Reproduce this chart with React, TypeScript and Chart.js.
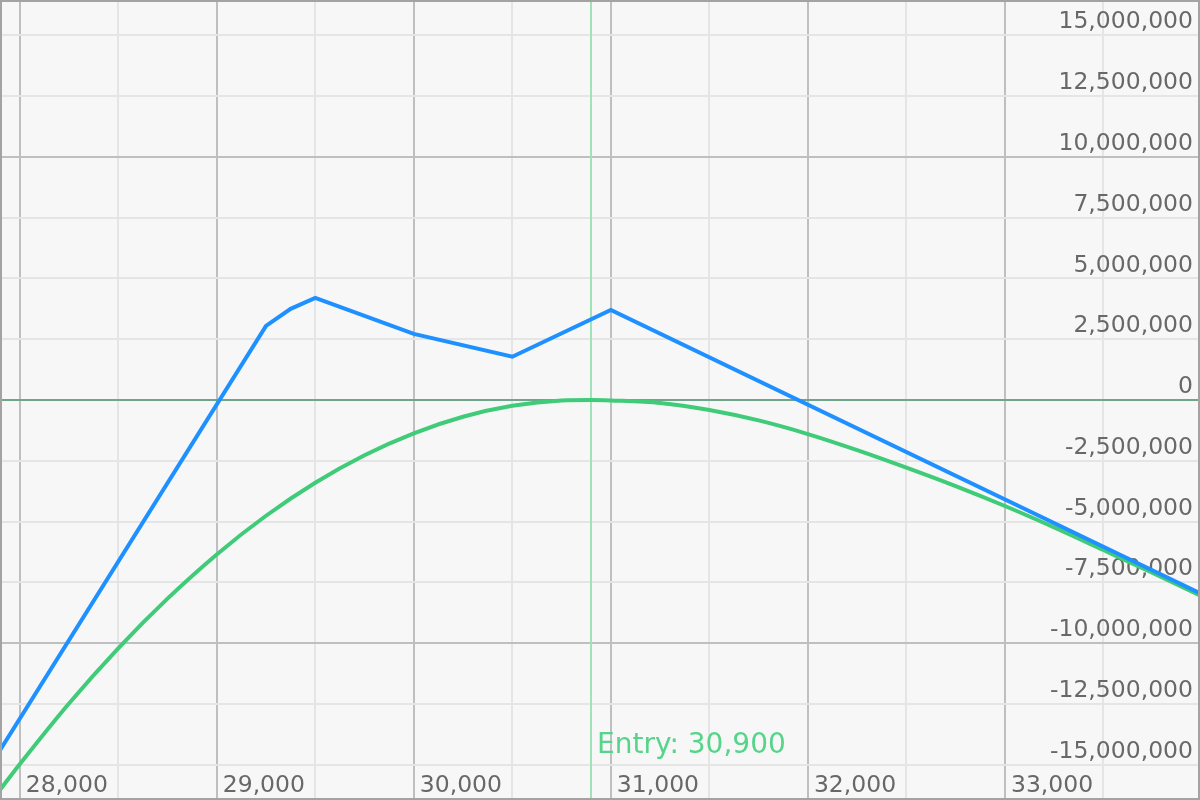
import React, { useEffect, useRef } from 'react';
import { Chart, registerables } from 'chart.js';

Chart.register(...registerables);

// ---- axis ranges ----
const X_MIN = 27900;
const X_MAX = 33990;
const Y_MIN = -16450000;
const Y_MAX = 16450000;
const X_LABEL_STEP = 1000;
const Y_MAJOR_STEP = 10000000;

// ---- tick values (grid lines) ----
const xTicks = [28000, 28500, 29000, 29500, 30000, 30500, 31000, 31500, 32000, 32500, 33000, 33500];
const yTicks = [
  -15000000, -12500000, -10000000, -7500000, -5000000, -2500000, 0,
  2500000, 5000000, 7500000, 10000000, 12500000, 15000000,
];

// ---- entry marker ----
const ENTRY_PRICE = 30900;
const ENTRY_LABEL = 'Entry: 30,900';

// ---- P&L at expiry (blue) ----
const expiryPrices = [27900, 29250, 29375, 29500, 30000, 30500, 31000, 33990];
const expiryPnl = [-14400000, 3050000, 3750000, 4200000, 2720000, 1780000, 3700000, -7950000];

// ---- current P&L (green) ----
const currentPrices = [
  27900, 28000, 28250, 28500, 28750, 29000, 29250, 29500, 29750, 30000, 30250, 30500,
  30750, 30900, 31000, 31250, 31500, 31750, 32000, 32250, 32500, 32750, 33000, 33250,
  33500, 33750, 33990,
];
const currentPnl = [
  -16030000, -14980000, -12480000, -10210000, -8170000, -6350000, -4760000, -3400000,
  -2270000, -1370000, -690000, -240000, -20000, 0, -20000, -120000, -410000, -840000,
  -1400000, -2060000, -2780000, -3540000, -4360000, -5240000, -6170000, -7110000, -8040000,
];

const BG = '#f7f7f7';
const FRAME = '#a3a3a3';
const GRID_MAJOR = '#bfbfbf';
const GRID_MINOR = '#e5e5e5';
const ZERO_LINE = '#6fa68b';
const TEXT = '#686868';
const BLUE = '#1e90ff';
const GREEN = '#3fcb78';
const ENTRY_LINE = '#9fe3b9';
const ENTRY_TEXT = '#55d48a';
const FONT = '"DejaVu Sans", Verdana, sans-serif';

const fmt = (v: number) => Math.round(v).toLocaleString('en-US');

const zeroPadding = (s: any, horizontal: boolean) => {
  if (horizontal) s.height = 0;
  else s.width = 0;
  s.paddingTop = 0;
  s.paddingBottom = 0;
  s.paddingLeft = 0;
  s.paddingRight = 0;
};

const chromePlugin = {
  id: 'chrome',
  beforeDraw(chart: any) {
    const { ctx, width, height } = chart;
    ctx.save();
    ctx.fillStyle = BG;
    ctx.fillRect(0, 0, width, height);
    ctx.restore();
  },
  beforeDatasetsDraw(chart: any) {
    const { ctx, chartArea, scales } = chart;
    const x = Math.round(scales.x.getPixelForValue(ENTRY_PRICE));
    ctx.save();
    ctx.strokeStyle = ENTRY_LINE;
    ctx.lineWidth = 2;
    ctx.beginPath();
    ctx.moveTo(x, chartArea.top);
    ctx.lineTo(x, chartArea.bottom);
    ctx.stroke();
    ctx.fillStyle = ENTRY_TEXT;
    ctx.font = `28px ${FONT}`;
    ctx.textAlign = 'left';
    ctx.textBaseline = 'middle';
    ctx.fillText(ENTRY_LABEL, x + 6, chartArea.bottom - 54);
    ctx.restore();
  },
  afterDraw(chart: any) {
    const { ctx, width, height } = chart;
    ctx.save();
    ctx.strokeStyle = FRAME;
    ctx.lineWidth = 2;
    ctx.strokeRect(1, 1, width - 2, height - 2);
    ctx.restore();
  },
};

export default function App() {
  const canvasRef = useRef<HTMLCanvasElement | null>(null);

  useEffect(() => {
    document.body.style.margin = '0';
    const canvas = canvasRef.current;
    if (!canvas) return;

    const chart = new Chart(canvas, {
      type: 'line',
      data: {
        datasets: [
          {
            label: 'Expiry',
            data: expiryPrices.map((p, i) => ({ x: p, y: expiryPnl[i] })),
            borderColor: BLUE,
            borderWidth: 4,
            pointRadius: 0,
            tension: 0,
            fill: false,
          },
          {
            label: 'Current',
            data: currentPrices.map((p, i) => ({ x: p, y: currentPnl[i] })),
            borderColor: GREEN,
            borderWidth: 4,
            pointRadius: 0,
            cubicInterpolationMode: 'monotone',
            fill: false,
          },
        ],
      },
      options: {
        animation: false,
        responsive: true,
        maintainAspectRatio: false,
        layout: { padding: 0 },
        plugins: {
          legend: { display: false },
          tooltip: { enabled: false },
        },
        scales: {
          x: {
            type: 'linear',
            position: 'bottom',
            min: X_MIN,
            max: X_MAX,
            afterBuildTicks: (s: any) => {
              s.ticks = xTicks.map((v) => ({ value: v }));
            },
            afterFit: (s: any) => zeroPadding(s, true),
            border: { display: false },
            grid: {
              drawTicks: false,
              lineWidth: 2,
              color: (c: any) =>
                c.tick && c.tick.value % X_LABEL_STEP === 0 ? GRID_MAJOR : GRID_MINOR,
            },
            ticks: {
              autoSkip: false,
              maxRotation: 0,
              minRotation: 0,
              mirror: true,
              align: 'start',
              padding: 0,
              labelOffset: 6,
              color: TEXT,
              font: { family: FONT, size: 23.5 },
              callback: (v: any) => (Number(v) % X_LABEL_STEP === 0 ? fmt(Number(v)) : ''),
            },
          },
          y: {
            type: 'linear',
            position: 'right',
            min: Y_MIN,
            max: Y_MAX,
            afterBuildTicks: (s: any) => {
              s.ticks = yTicks.map((v) => ({ value: v }));
            },
            afterFit: (s: any) => zeroPadding(s, false),
            border: { display: false },
            grid: {
              drawTicks: false,
              lineWidth: 2,
              color: (c: any) => {
                const v = c.tick ? c.tick.value : 1;
                if (v === 0) return ZERO_LINE;
                return v % Y_MAJOR_STEP === 0 ? GRID_MAJOR : GRID_MINOR;
              },
            },
            ticks: {
              autoSkip: false,
              mirror: true,
              padding: -7,
              labelOffset: -13,
              color: TEXT,
              font: { family: FONT, size: 23.5 },
              callback: (v: any) => fmt(Number(v)),
            },
          },
        },
      } as any,
      plugins: [chromePlugin],
    });

    return () => {
      chart.destroy();
    };
  }, []);

  return (
    <div style={{ width: 1200, height: 800, position: 'relative' }}>
      <canvas ref={canvasRef} />
    </div>
  );
}
